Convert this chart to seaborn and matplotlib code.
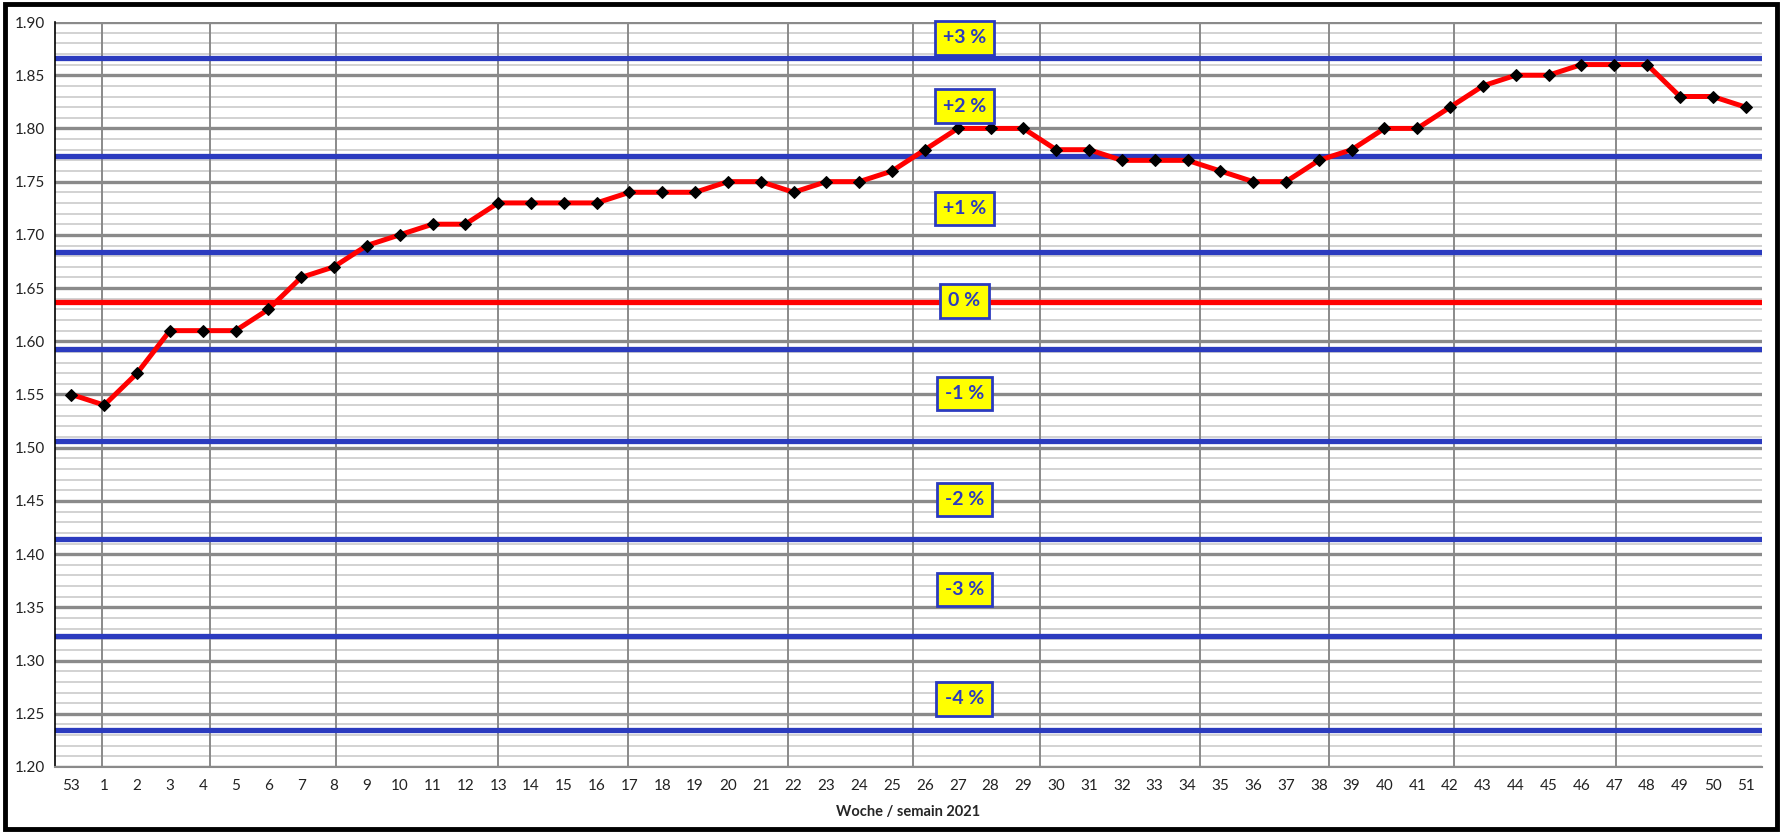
import numpy as np
import pandas as pd
import matplotlib
matplotlib.use("Agg")
import matplotlib.pyplot as plt
from matplotlib.patches import Rectangle
from matplotlib.ticker import MultipleLocator, FixedLocator
import seaborn as sns

# --- Daten ---
weeks = ["53"] + [str(w) for w in range(1, 52)]
prices = [1.55, 1.54, 1.57, 1.61, 1.61, 1.61, 1.63, 1.66, 1.67, 1.69,
          1.70, 1.71, 1.71, 1.73, 1.73, 1.73, 1.73, 1.74, 1.74, 1.74,
          1.75, 1.75, 1.74, 1.75, 1.75, 1.76, 1.78, 1.80, 1.80, 1.80,
          1.78, 1.78, 1.77, 1.77, 1.77, 1.76, 1.75, 1.75, 1.77, 1.78,
          1.80, 1.80, 1.82, 1.84, 1.85, 1.85, 1.86, 1.86, 1.86, 1.83,
          1.83, 1.82]

# Monatsgrenzen (Position auf der Wochenachse)
month_lines = [0.92, 4.22, 8.05, 12.98, 16.97, 21.83, 25.64, 29.5,
               34.38, 38.32, 42.11, 47.04]

# Bandgrenzen (blau) und Basis (rot)
band_lines = [1.866, 1.774, 1.684, 1.593, 1.506, 1.414, 1.323, 1.235]
base_line = 1.637

# Beschriftungen der Bänder
band_labels = ["+3 %", "+2 %", "+1 %", "0 %", "-1 %", "-2 %", "-3 %", "-4 %"]
band_label_y = [1.885, 1.821, 1.725, 1.638, 1.551, 1.4515, 1.367, 1.264]
label_x = 27.2

df = pd.DataFrame({"pos": np.arange(len(weeks)), "price": prices})

sns.set_style("white")
plt.rcParams["font.family"] = ["Lato", "DejaVu Sans"]

fig = plt.figure(figsize=(17.81, 8.32), dpi=100)
ax = fig.add_axes([55 / 1781, 65 / 832, 1707 / 1781, 745 / 832])

blue = "#2b3bbf"
gray = "#8a8a8a"

# Gitter
ax.set_xlim(-0.5, len(weeks) - 0.5)
ax.set_ylim(1.20, 1.90)
ax.yaxis.set_major_locator(MultipleLocator(0.05))
ax.yaxis.set_minor_locator(MultipleLocator(0.01))
ax.xaxis.set_major_locator(FixedLocator(df["pos"]))
ax.xaxis.set_minor_locator(FixedLocator(month_lines))
ax.set_xticklabels(weeks)
ax.yaxis.set_major_formatter(matplotlib.ticker.FormatStrFormatter("%.2f"))

ax.grid(which="minor", axis="y", color="#cfcfcf", linewidth=1.3, zorder=0.5)
ax.grid(which="major", axis="y", color=gray, linewidth=2.4, zorder=1)
ax.grid(which="major", axis="x", visible=False)
for m in month_lines:
    ax.axvline(m, color=gray, linewidth=1.4, zorder=1.5)
ax.set_axisbelow(True)

# Bandlinien
for y in band_lines:
    ax.axhline(y, color=blue, linewidth=3.8, zorder=2)
ax.axhline(base_line, color="#ff0000", linewidth=3.8, zorder=2)

# Preisverlauf
sns.lineplot(data=df, x="pos", y="price", ax=ax, color="#ff0000",
             linewidth=3.6, marker="D", markersize=6.5,
             markerfacecolor="black", markeredgecolor="black", zorder=4)

for txt, y in zip(band_labels, band_label_y):
    ax.text(label_x, y, txt, ha="center", va="center", fontsize=14,
            fontweight="bold", color=blue, zorder=6,
            bbox=dict(boxstyle="square,pad=0.42", facecolor="#ffff00",
                      edgecolor=blue, linewidth=2))

# Achsen
for s in ["top", "right"]:
    ax.spines[s].set_visible(False)
ax.spines["left"].set_color("black")
ax.spines["left"].set_linewidth(1.2)
ax.spines["bottom"].set_color(gray)
ax.spines["bottom"].set_linewidth(1.5)

ax.tick_params(axis="y", which="major", direction="inout", length=7,
               width=1.2, color="black", labelsize=11, pad=4,
               labelcolor="#222222")
ax.tick_params(axis="y", which="minor", direction="inout", length=6,
               width=1.2, color="black")
ax.tick_params(axis="x", which="major", direction="in", length=3,
               width=1, color=gray, labelsize=11, pad=9,
               labelcolor="#222222")
ax.tick_params(axis="x", which="minor", direction="out", length=4,
               width=1.4, color=gray)

ax.set_xlabel("Woche / semain 2021", fontsize=10.5, fontweight="bold",
              labelpad=8)
ax.set_ylabel("")

# Rahmen um die Grafik
fig.patches.append(Rectangle((5 / 1781, 3 / 832), 1772 / 1781, 825 / 832,
                             transform=fig.transFigure, fill=False,
                             edgecolor="black", linewidth=3.5))

fig.savefig("out.png", dpi=100)
